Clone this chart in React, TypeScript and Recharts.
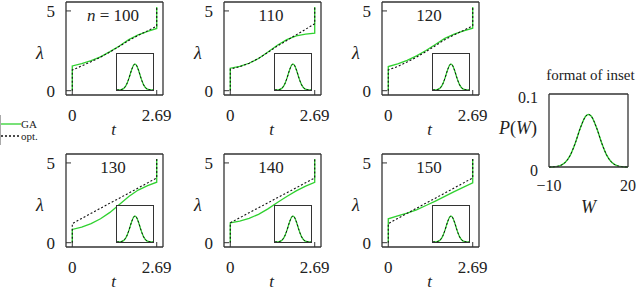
import { Label, Legend, Line, LineChart, XAxis, YAxis } from "recharts";

const FONT = '"Liberation Serif", "DejaVu Serif", serif';
const INK = "#222";
const FRAME = "#333";
const GREEN = "#2fd12f";

// shared time grid, ticks and the jumps at both ends
const T_GRID = [0, 0.3, 0.6, 0.9, 1.2, 1.5, 1.8, 2.1, 2.4, 2.69];
const T_TICKS = [0, 2.69];
const LAMBDA_TICKS = [0, 5];
const LAMBDA_START = 0;
const LAMBDA_JUMP = 5.25;

const N_LABELS = ["100", "110", "120", "130", "140", "150"];

// lambda(t), GA (green) and optimal (dashed)
const GA_100 = [1.55, 1.7, 1.88, 2.12, 2.45, 2.8, 3.2, 3.5, 3.72, 3.9];
const OPT_100 = [1.3, 1.55, 1.82, 2.1, 2.43, 2.78, 3.15, 3.47, 3.75, 4.05];
const GA_110 = [1.41, 1.52, 1.72, 2.02, 2.42, 2.85, 3.2, 3.43, 3.54, 3.61];
const OPT_110 = [1.35, 1.5, 1.72, 2.02, 2.4, 2.8, 3.15, 3.5, 3.85, 4.2];
const GA_120 = [1.51, 1.68, 1.9, 2.18, 2.52, 2.9, 3.28, 3.55, 3.75, 3.92];
const OPT_120 = [1.3, 1.52, 1.8, 2.1, 2.45, 2.82, 3.2, 3.5, 3.78, 4.07];
const GA_130 = [0.83, 0.98, 1.2, 1.5, 1.9, 2.4, 2.9, 3.3, 3.58, 3.79];
const OPT_130 = [1.2, 1.52, 1.84, 2.16, 2.48, 2.79, 3.11, 3.43, 3.75, 4.06];
const GA_140 = [1.25, 1.35, 1.52, 1.78, 2.12, 2.52, 2.9, 3.25, 3.55, 3.79];
const OPT_140 = [1.25, 1.56, 1.88, 2.19, 2.5, 2.82, 3.13, 3.44, 3.76, 4.06];
const GA_150 = [1.5, 1.68, 1.86, 2.06, 2.33, 2.61, 2.9, 3.2, 3.48, 3.75];
const OPT_150 = [1.2, 1.52, 1.84, 2.16, 2.48, 2.79, 3.11, 3.43, 3.75, 4.06];

// work distribution shown in every inset
const W_GRID = [-10, -8, -6, -4, -2, 0, 2, 4, 5, 6, 8, 10, 12, 14, 16, 18, 20];
const P_GA = [0, 0.0004, 0.0016, 0.0057, 0.0156, 0.033, 0.0544, 0.0698, 0.072, 0.0698, 0.0544, 0.033, 0.0156, 0.0057, 0.0016, 0.0004, 0];
const P_OPT = [0, 0.0004, 0.0016, 0.0057, 0.0156, 0.033, 0.0544, 0.0698, 0.072, 0.0698, 0.0544, 0.033, 0.0156, 0.0057, 0.0016, 0.0004, 0];
const W_TICKS = [-10, 20];
const P_TICKS = [0, 0.1];

const T_DOMAIN = [-0.2, 2.89];
const L_DOMAIN = [-0.27, 5.56];
const W_DOMAIN = [-10, 20];
const P_DOMAIN = [0, 0.1];

const FRAME_LEFTS = [66, 224, 382];
const FRAME_TOPS = [2, 154];

const PANELS = [
    { ga: GA_100, opt: OPT_100 },
    { ga: GA_110, opt: OPT_110 },
    { ga: GA_120, opt: OPT_120 },
    { ga: GA_130, opt: OPT_130 },
    { ga: GA_140, opt: OPT_140 },
    { ga: GA_150, opt: OPT_150 },
];

const lambdaRows = (lam: number[]) => [
    { t: T_GRID[0], l: LAMBDA_START },
    ...T_GRID.map((t, i) => ({ t, l: lam[i] })),
    { t: T_GRID[T_GRID.length - 1], l: LAMBDA_JUMP },
];

const pRows = (p: number[]) => W_GRID.map((w, i) => ({ w, p: p[i] }));

const fmtW = (v: number) => (v < 0 ? `\u2212${Math.abs(v)}` : `${v}`);

type Part = [string, boolean?];

// label content placed relative to the axis viewBox
const caption =
    (place: (vb: any) => [number, number], parts: Part[], size: number) =>
    (props: any) => {
        const [x, y] = place(props.viewBox);
        return (
            <text x={x} y={y} textAnchor="middle" fontSize={size} fontFamily={FONT} fill={INK}>
                {parts.map(([s, it], i) => (
                    <tspan key={i} fontStyle={it ? "italic" : "normal"}>
                        {s}
                    </tspan>
                ))}
            </text>
        );
    };

function LegendBox({ payload }: any) {
    return (
        <div
            style={{
                borderLeft: "1px solid #aaa",
                padding: "3px 0",
                fontFamily: FONT,
                fontSize: 11,
                color: INK,
            }}
        >
            {(payload ?? []).map((p: any) => (
                <div key={p.value} style={{ display: "flex", alignItems: "center", height: 12 }}>
                    <svg width={20} height={4}>
                        <line
                            x1={0}
                            x2={20}
                            y1={2}
                            y2={2}
                            stroke={p.color}
                            strokeWidth={1.3}
                            strokeDasharray={p.payload?.strokeDasharray}
                        />
                    </svg>
                    <span>{p.value}</span>
                </div>
            ))}
        </div>
    );
}

function Inset({ left, top }: { left: number; top: number }) {
    return (
        <div
            style={{
                position: "absolute",
                left,
                top,
                width: 38,
                height: 38,
                border: `1px solid ${FRAME}`,
                boxSizing: "border-box",
                background: "#fff",
            }}
        >
            <LineChart width={36} height={36} margin={{ top: 0, right: 0, bottom: 0, left: 0 }}>
                <XAxis dataKey="w" type="number" domain={W_DOMAIN} hide />
                <YAxis type="number" domain={P_DOMAIN} hide />
                <Line data={pRows(P_GA)} dataKey="p" type="monotone" stroke={GREEN} strokeWidth={1.3} dot={false} isAnimationActive={false} />
                <Line data={pRows(P_OPT)} dataKey="p" type="monotone" stroke="#111" strokeWidth={1} strokeDasharray="2 2" dot={false} isAnimationActive={false} />
            </LineChart>
        </div>
    );
}

const tickStyle = { fontSize: 17, fill: INK, fontFamily: FONT };

function Panel({ index, ga, opt }: { index: number; ga: number[]; opt: number[] }) {
    const fl = FRAME_LEFTS[index % 3];
    const ft = FRAME_TOPS[Math.floor(index / 3)];
    const title: Part[] =
        index === 0 ? [["n", true], [`\u00a0=\u00a0${N_LABELS[0]}`]] : [[N_LABELS[index]]];

    return (
        <>
            <div style={{ position: "absolute", left: fl - 60, top: ft - 2 }}>
                <LineChart width={180} height={148} margin={{ top: 0, right: 0, bottom: 0, left: 0 }}>
                    <XAxis
                        xAxisId="b"
                        dataKey="t"
                        type="number"
                        domain={T_DOMAIN}
                        ticks={T_TICKS}
                        interval={0}
                        allowDataOverflow
                        height={53}
                        tickSize={-5}
                        tickMargin={19}
                        stroke={FRAME}
                        axisLine={{ strokeWidth: 1.3 }}
                        tick={tickStyle}
                    >
                        <Label content={caption((vb) => [vb.x + vb.width / 2 - 1, vb.y + 40], [["t", true]], 17)} />
                    </XAxis>
                    <XAxis
                        xAxisId="top"
                        orientation="top"
                        type="number"
                        domain={T_DOMAIN}
                        ticks={T_TICKS}
                        interval={0}
                        allowDataOverflow
                        height={2}
                        tickSize={-5}
                        tick={false}
                        stroke={FRAME}
                        axisLine={{ strokeWidth: 1.3 }}
                    >
                        <Label content={caption((vb) => [vb.x + vb.width / 2 - 1.5, vb.y + vb.height + 19], title, 17)} />
                    </XAxis>
                    <YAxis
                        yAxisId="l"
                        type="number"
                        domain={L_DOMAIN}
                        ticks={LAMBDA_TICKS}
                        interval={0}
                        allowDataOverflow
                        width={60}
                        tickSize={-5}
                        tickMargin={16}
                        stroke={FRAME}
                        axisLine={{ strokeWidth: 1.3 }}
                        tick={tickStyle}
                    >
                        <Label content={caption((vb) => [vb.x + vb.width - 26, vb.y + vb.height / 2 + 10], [["λ", true]], 18)} />
                    </YAxis>
                    <YAxis
                        yAxisId="r"
                        orientation="right"
                        type="number"
                        domain={L_DOMAIN}
                        ticks={LAMBDA_TICKS}
                        interval={0}
                        allowDataOverflow
                        width={23}
                        tickSize={-5}
                        tick={false}
                        stroke={FRAME}
                        axisLine={{ strokeWidth: 1.3 }}
                    />
                    <Line
                        xAxisId="b"
                        yAxisId="l"
                        data={lambdaRows(ga)}
                        dataKey="l"
                        name="GA"
                        type="linear"
                        stroke={GREEN}
                        strokeWidth={1.3}
                        dot={false}
                        isAnimationActive={false}
                    />
                    <Line
                        xAxisId="b"
                        yAxisId="l"
                        data={lambdaRows(opt)}
                        dataKey="l"
                        name="opt."
                        type="linear"
                        stroke="#111"
                        strokeWidth={1.1}
                        strokeDasharray="2 2"
                        dot={false}
                        isAnimationActive={false}
                    />
                    {index === 0 && (
                        <Legend
                            layout="vertical"
                            align="center"
                            verticalAlign="middle"
                            wrapperStyle={{ left: -6, top: 115, width: 50 }}
                            content={LegendBox}
                        />
                    )}
                </LineChart>
            </div>
            <Inset left={fl + 50} top={ft + 51} />
        </>
    );
}

function FormatPanel() {
    return (
        <div style={{ position: "absolute", left: 490, top: 60 }}>
            <LineChart width={150} height={160} margin={{ top: 0, right: 0, bottom: 0, left: 0 }}>
                <XAxis
                    xAxisId="b"
                    dataKey="w"
                    type="number"
                    domain={W_DOMAIN}
                    ticks={W_TICKS}
                    interval={0}
                    height={53}
                    tickSize={0}
                    tickLine={false}
                    tickMargin={13}
                    tickFormatter={fmtW}
                    stroke={FRAME}
                    axisLine={{ strokeWidth: 1.3 }}
                    tick={{ ...tickStyle, fontSize: 16 }}
                >
                    <Label content={caption((vb) => [vb.x + vb.width / 2, vb.y + 46], [["W", true]], 18)} />
                </XAxis>
                <XAxis
                    xAxisId="top"
                    orientation="top"
                    type="number"
                    domain={W_DOMAIN}
                    ticks={W_TICKS}
                    interval={0}
                    allowDataOverflow
                    height={34}
                    tick={false}
                    tickLine={false}
                    stroke={FRAME}
                    axisLine={{ strokeWidth: 1.3 }}
                >
                    <Label content={caption((vb) => [vb.x + vb.width / 2 + 2, vb.y + 20], [["format of inset"]], 15)} />
                </XAxis>
                <YAxis
                    yAxisId="l"
                    type="number"
                    domain={P_DOMAIN}
                    ticks={P_TICKS}
                    interval={0}
                    width={59}
                    tickSize={0}
                    tickLine={false}
                    tickMargin={11}
                    stroke={FRAME}
                    axisLine={{ strokeWidth: 1.3 }}
                    tick={{ ...tickStyle, fontSize: 16, dy: 3 }}
                >
                    <Label
                        content={caption(
                            (vb) => [vb.x + 28, vb.y + 40],
                            [["P", true], ["("], ["W", true], [")"]],
                            18
                        )}
                    />
                </YAxis>
                <YAxis
                    yAxisId="r"
                    orientation="right"
                    type="number"
                    domain={P_DOMAIN}
                    ticks={P_TICKS}
                    interval={0}
                    allowDataOverflow
                    width={12}
                    tick={false}
                    tickLine={false}
                    stroke={FRAME}
                    axisLine={{ strokeWidth: 1.3 }}
                />
                <Line xAxisId="b" yAxisId="l" data={pRows(P_GA)} dataKey="p" type="monotone" stroke={GREEN} strokeWidth={1.4} dot={false} isAnimationActive={false} />
                <Line xAxisId="b" yAxisId="l" data={pRows(P_OPT)} dataKey="p" type="monotone" stroke="#111" strokeWidth={1} strokeDasharray="2 2" dot={false} isAnimationActive={false} />
            </LineChart>
        </div>
    );
}

export default function App() {
    return (
        <div
            style={{
                position: "absolute",
                left: 0,
                top: 0,
                width: 640,
                height: 292,
                overflow: "hidden",
                background: "#fff",
                fontFamily: FONT,
            }}
        >
            {PANELS.map((p, i) => (
                <Panel key={i} index={i} ga={p.ga} opt={p.opt} />
            ))}
            <FormatPanel />
        </div>
    );
}
